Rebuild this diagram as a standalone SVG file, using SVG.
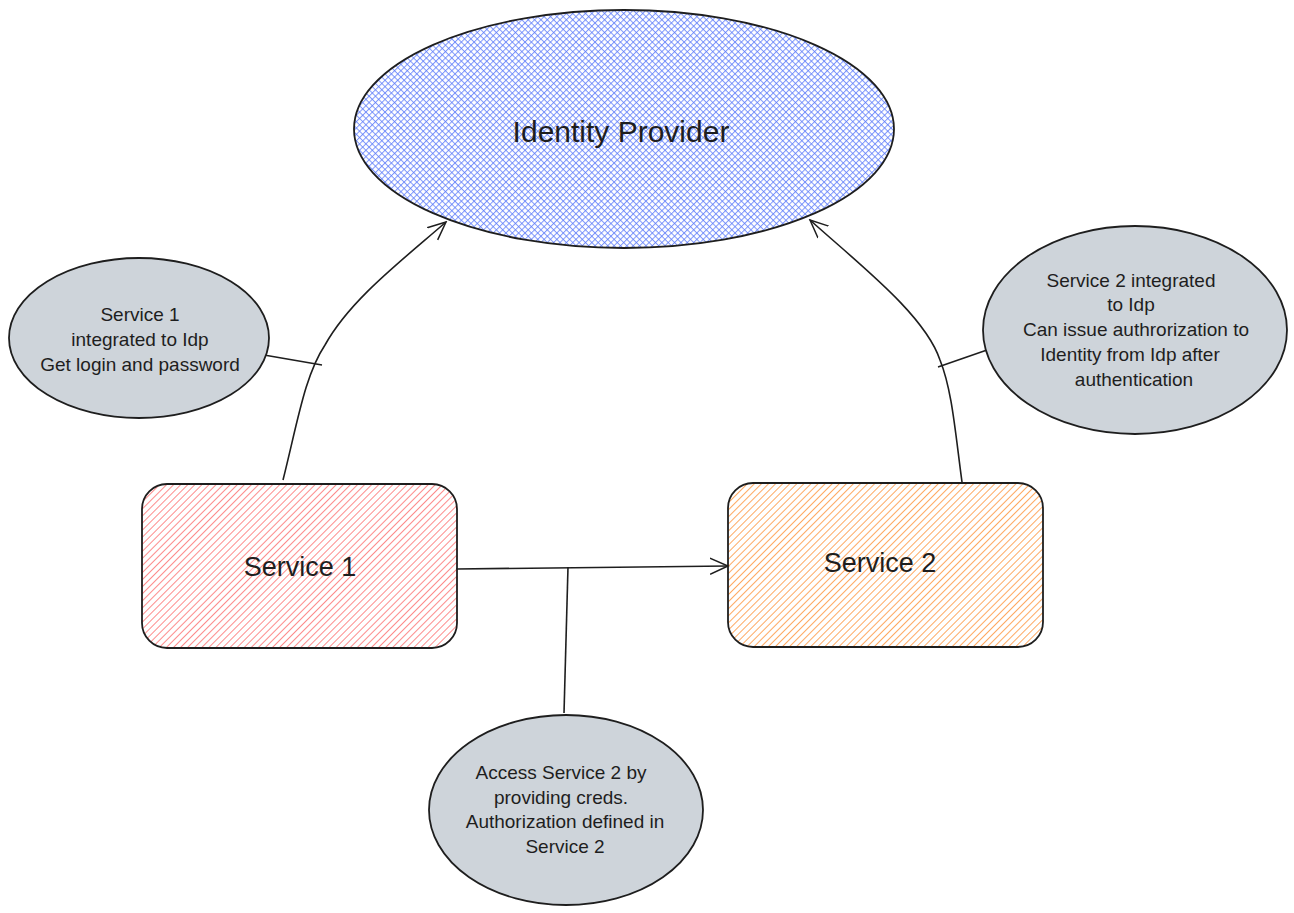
<svg xmlns="http://www.w3.org/2000/svg" width="1294" height="913" viewBox="0 0 1294 913">
<defs>
<pattern id="hBlue" width="4.5" height="4.5" patternUnits="userSpaceOnUse" patternTransform="rotate(45)">
<line x1="0" y1="0" x2="0" y2="4.5" stroke="#5c7cfa" stroke-width="2" stroke-opacity="0.8"/>
<line x1="0" y1="0" x2="4.5" y2="0" stroke="#5c7cfa" stroke-width="2" stroke-opacity="0.8"/>
</pattern>
<pattern id="hRed" width="5" height="5" patternUnits="userSpaceOnUse" patternTransform="rotate(45)">
<line x1="0" y1="0" x2="0" y2="5" stroke="#fa5252" stroke-width="1.8" stroke-opacity="0.75"/>
</pattern>
<pattern id="hOrange" width="5" height="5" patternUnits="userSpaceOnUse" patternTransform="rotate(45)">
<line x1="0" y1="0" x2="0" y2="5" stroke="#fd7e14" stroke-width="1.8" stroke-opacity="0.75"/>
</pattern>
<marker id="arr" viewBox="0 0 20 20" refX="18" refY="10" markerWidth="20" markerHeight="20" markerUnits="userSpaceOnUse" orient="auto">
<path d="M0,2 L18,10 L0,18" fill="none" stroke="#1e1e1e" stroke-width="1.5"/>
</marker>
</defs>
<style>
.outline{stroke:#1e1e1e;stroke-width:1.8;}
.note{fill:#ced4da;stroke:#1e1e1e;stroke-width:1.8;}
.conn{fill:none;stroke:#1e1e1e;stroke-width:1.6;}
text{font-family:"Liberation Sans","DejaVu Sans",sans-serif;fill:#1e1e1e;text-anchor:middle;}
.big{font-size:30px;}
.mid{font-size:27px;}
.small{font-size:19px;}
</style>
<rect width="1294" height="913" fill="#ffffff"/>

<g id="connectors">
<path class="conn" d="M283,480 C298,420 305,375 325,345 C350,300 400,262 446,222" marker-end="url(#arr)"/>
<path class="conn" d="M962,482 C955,430 952,390 940,360 C925,315 860,265 810,220" marker-end="url(#arr)"/>
<path class="conn" d="M456,569 L728,566" marker-end="url(#arr)"/>
<path class="conn" d="M264,355 L322,365"/>
<path class="conn" d="M987,350 L938,367"/>
<path class="conn" d="M564,713 L568,567"/>
</g>

<g id="identity-provider">
<ellipse cx="624" cy="129" rx="270" ry="119" fill="url(#hBlue)" class="outline"/>
<text class="big" x="621" y="142">Identity Provider</text>
</g>

<g id="service-1">
<rect x="142" y="484" width="315" height="164" rx="25" fill="url(#hRed)" class="outline"/>
<text class="mid" x="300" y="576">Service 1</text>
</g>

<g id="service-2">
<rect x="728" y="483" width="315" height="164" rx="25" fill="url(#hOrange)" class="outline"/>
<text class="mid" x="880" y="572">Service 2</text>
</g>

<g id="note-service-1">
<ellipse class="note" cx="139" cy="338" rx="130" ry="80"/>
<text class="small" x="140" y="321">Service 1</text>
<text class="small" x="140" y="346">integrated to Idp</text>
<text class="small" x="140" y="371">Get login and password</text>
</g>

<g id="note-service-2">
<ellipse class="note" cx="1135" cy="330" rx="152" ry="104"/>
<text class="small" x="1131" y="287">Service 2 integrated</text>
<text class="small" x="1131" y="311">to Idp</text>
<text class="small" x="1136" y="336">Can issue authrorization to</text>
<text class="small" x="1130" y="361">Identity from Idp after</text>
<text class="small" x="1134" y="386">authentication</text>
</g>

<g id="note-access">
<ellipse class="note" cx="566" cy="810" rx="137" ry="95"/>
<text class="small" x="561" y="779">Access Service 2 by</text>
<text class="small" x="561" y="804">providing creds.</text>
<text class="small" x="565" y="828">Authorization defined in</text>
<text class="small" x="565" y="853">Service 2</text>
</g>
</svg>
